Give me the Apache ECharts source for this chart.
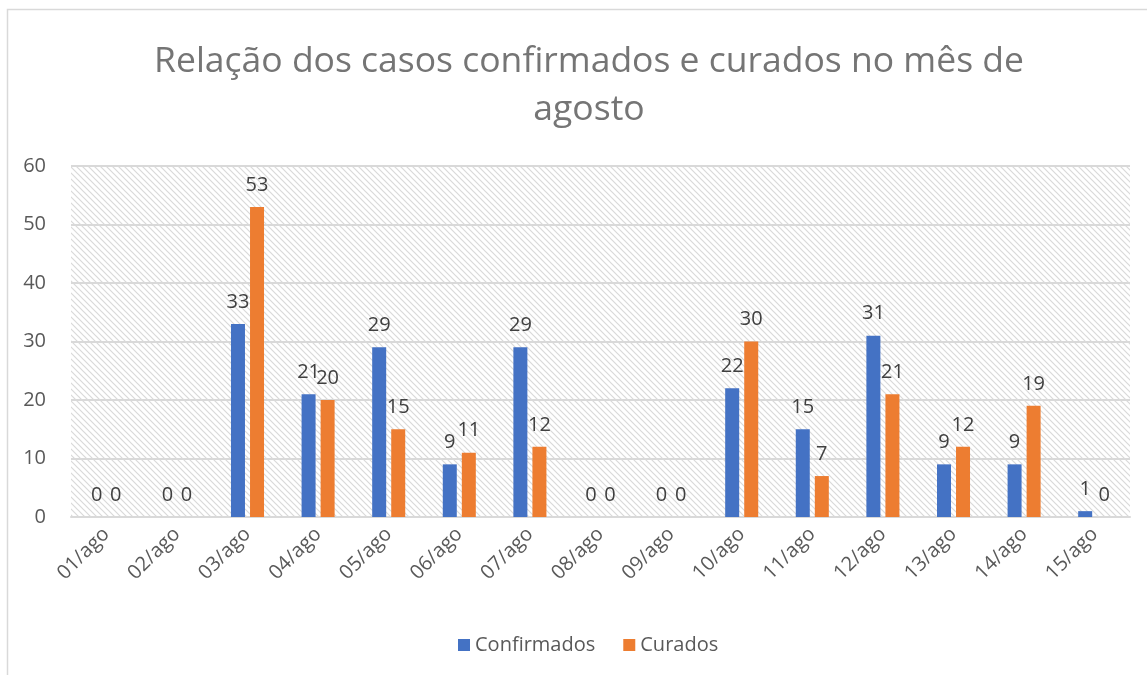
<!DOCTYPE html>
<html>
<head>
<meta charset="utf-8">
<script src="https://cdn.jsdelivr.net/npm/echarts@6/dist/echarts.min.js"></script>
<style>
  html, body { margin: 0; padding: 0; background: #fff; }
  #chart { width: 1147px; height: 675px; }
</style>
</head>
<body>
<div id="chart"></div>
<script>
  var dias = ['01/ago', '02/ago', '03/ago', '04/ago', '05/ago', '06/ago', '07/ago', '08/ago',
              '09/ago', '10/ago', '11/ago', '12/ago', '13/ago', '14/ago', '15/ago'];
  var confirmados = [0, 0, 33, 21, 29, 9, 29, 0, 0, 22, 15, 31, 9, 9, 1];
  var curados = [0, 0, 53, 20, 15, 11, 12, 0, 0, 30, 7, 21, 12, 19, 0];
  var yTicks = { min: 0, max: 60, interval: 10 };

  // hachura diagonal do fundo da area de plotagem
  function hatch() {
    var c = document.createElement('canvas');
    c.width = 6; c.height = 6;
    var ctx = c.getContext('2d');
    ctx.fillStyle = '#fff';
    ctx.fillRect(0, 0, 6, 6);
    ctx.strokeStyle = '#d9d9d9';
    ctx.lineWidth = 1.2;
    ctx.beginPath();
    ctx.moveTo(-1, -1); ctx.lineTo(7, 7);
    ctx.moveTo(-4, 2); ctx.lineTo(2, 8);
    ctx.moveTo(2, -4); ctx.lineTo(8, 2);
    ctx.stroke();
    return c;
  }

  var font = '"Open Sans", sans-serif';
  var labelStyle = { show: true, position: 'top', distance: 12, color: '#404040', fontSize: 20, fontFamily: font };

  var chart = echarts.init(document.getElementById('chart'));
  chart.setOption({
    animation: false,
    textStyle: { fontFamily: font },
    title: {
      text: 'Relação dos casos confirmados e curados no mês de\nagosto',
      left: 584,
      top: 33,
      textAlign: 'center',
      textStyle: { color: '#757575', fontSize: 35.5, fontWeight: 'normal', lineHeight: 48, fontFamily: font }
    },
    graphic: [{
      type: 'rect',
      shape: { x: 7.5, y: 9.5, width: 1200, height: 700 },
      style: { fill: 'none', stroke: '#d9d9d9', lineWidth: 1.5 },
      silent: true
    }],
    legend: {
      bottom: 15,
      left: 453,
      itemWidth: 12,
      itemHeight: 12,
      itemGap: 28,
      icon: 'rect',
      textStyle: { color: '#595959', fontSize: 20, fontFamily: font },
      data: ['Confirmados', 'Curados']
    },
    grid: {
      left: 71, right: 17, top: 166, bottom: 158,
      show: true,
      borderWidth: 0,
      backgroundColor: { image: hatch(), repeat: 'repeat' }
    },
    xAxis: {
      type: 'category',
      data: dias,
      axisLine: { lineStyle: { color: '#d9d9d9', width: 2 } },
      axisTick: { show: false },
      axisLabel: { rotate: 45, margin: 14, color: '#595959', fontSize: 20, fontFamily: font, interval: 0 }
    },
    yAxis: {
      type: 'value',
      min: yTicks.min,
      max: yTicks.max,
      interval: yTicks.interval,
      axisLine: { show: false },
      axisTick: { show: false },
      axisLabel: { margin: 25, color: '#595959', fontSize: 20, fontFamily: font },
      splitLine: { lineStyle: { color: '#d9d9d9', width: 2 } }
    },
    series: [
      {
        name: 'Confirmados',
        type: 'bar',
        data: confirmados,
        barWidth: 14,
        barGap: '36%',
        itemStyle: { color: '#4472c4' },
        label: labelStyle
      },
      {
        name: 'Curados',
        type: 'bar',
        data: curados,
        barWidth: 14,
        itemStyle: { color: '#ed7d31' },
        label: labelStyle
      }
    ]
  });
</script>
</body>
</html>
